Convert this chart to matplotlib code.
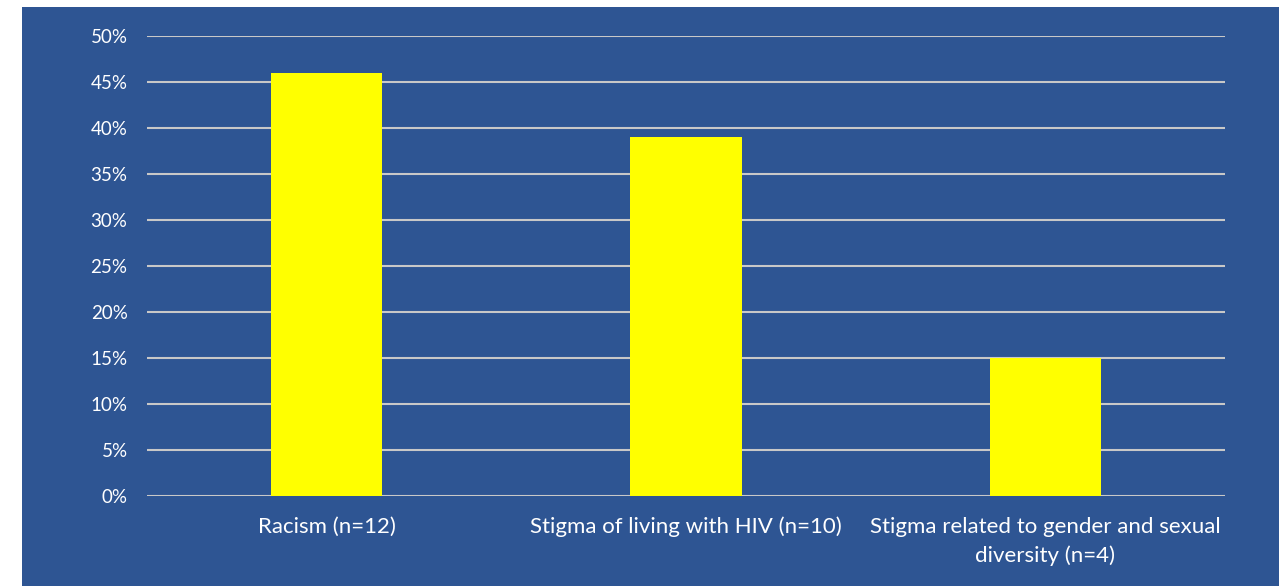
import matplotlib
matplotlib.use("Agg")
import matplotlib.pyplot as plt
from matplotlib.patches import Rectangle
from matplotlib.ticker import PercentFormatter

categories = ["Racism (n=12)",
              "Stigma of living with HIV (n=10)",
              "Stigma related to gender and sexual\ndiversity (n=4)"]
shares = [46, 39, 15]
yticks = [0, 5, 10, 15, 20, 25, 30, 35, 40, 45, 50]

BG = "#2E5593"
plt.rcParams["font.family"] = ["Lato", "DejaVu Sans"]

fig = plt.figure(figsize=(12.79, 5.86), dpi=100, facecolor="white")
# slide-style blue panel behind the chart
fig.patches.append(Rectangle((22 / 1279, 0), 1 - 22 / 1279, 1 - 7 / 586,
                             transform=fig.transFigure, facecolor=BG,
                             edgecolor="none", zorder=-1))

ax = fig.add_axes([147 / 1279, 1 - 496 / 586, 1078 / 1279, 460 / 586])
ax.set_facecolor(BG)
ax.patch.set_alpha(0)

x = range(len(categories))
ax.bar(x, shares, width=0.31, color="#FFFF00", zorder=3)

ax.set_xlim(-0.5, len(categories) - 0.5)
ax.set_ylim(0, 50)
ax.set_yticks(yticks)
ax.yaxis.set_major_formatter(PercentFormatter(decimals=0))
ax.grid(axis="y", color="#C8C8C8", lw=1.5, zorder=0)
ax.set_axisbelow(True)
for s in ax.spines.values():
    s.set_visible(False)

ax.set_xticks(list(x))
ax.set_xticklabels(categories, fontsize=16, color="white", linespacing=1.5)
ax.tick_params(axis="x", length=0, pad=15)
ax.tick_params(axis="y", length=0, pad=14, labelsize=13.5, labelcolor="white")

fig.savefig("out.png", dpi=100, facecolor=fig.get_facecolor())
